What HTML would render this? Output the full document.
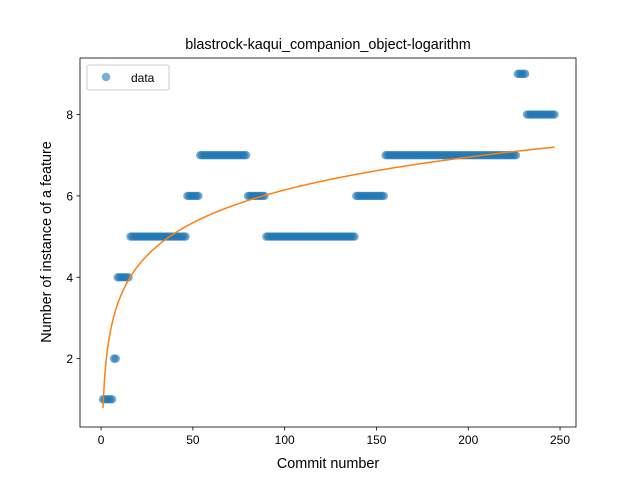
<!DOCTYPE html>
<html><head><meta charset="utf-8"><style>
body{margin:0;background:#fff;}
svg{font-family:"Liberation Sans","DejaVu Sans",sans-serif;}
</style></head><body>
<svg id="chart" width="640" height="480" viewBox="0 0 640 480">
<rect width="640" height="480" fill="#fff"/>
<g id="marks"></g>
<g id="axes"></g>
<text x="328" y="49" text-anchor="middle" font-size="14.4">blastrock-kaqui_companion_object-logarithm</text>
<text x="328" y="468" text-anchor="middle" font-size="14.4">Commit number</text>
<text transform="translate(51,242) rotate(-90)" text-anchor="middle" font-size="14.4">Number of instance of a feature</text>
<g>
<rect x="87" y="65" width="82" height="25" rx="2" fill="#fff" fill-opacity="0.8" stroke="#ccc"/>
<circle cx="106" cy="77" r="4.2" fill="#1f77b4" fill-opacity="0.6"/>
<text x="131" y="82" font-size="12">data</text>
</g>
</svg>
<script>
// segments: [start commit, end commit, value]
const segStarts=[1,7,9,16,47,54,80,90,139,155,227,232];
const segEnds=[6,8,15,46,53,79,89,138,154,226,231,247];
const segValues=[1,2,4,5,6,7,6,5,6,7,9,8];
const xTicks=[0,50,100,150,200,250];
const yTicks=[2,4,6,8];

const L=80,R=576,T=58,B=427;
const xmin=-11.5,xmax=258.7,ymin=0.32,ymax=9.39;
const X=v=>L+(v-xmin)/(xmax-xmin)*(R-L);
const Y=v=>B-(v-ymin)/(ymax-ymin)*(B-T);
const NS="http://www.w3.org/2000/svg";
const marks=document.getElementById('marks');
const axes=document.getElementById('axes');
function mk(tag,attrs,parent){const e=document.createElementNS(NS,tag);for(const k in attrs)e.setAttribute(k,attrs[k]);parent.appendChild(e);return e;}

const xs=[],ys=[];
for(let s=0;s<segStarts.length;s++){for(let c=segStarts[s];c<=segEnds[s];c++){xs.push(c);ys.push(segValues[s]);}}
for(let i=0;i<xs.length;i++){
  const p=mk('circle',{cx:X(xs[i]),cy:Y(ys[i]),r:4.2,fill:'#1f77b4','fill-opacity':0.6},marks);
  
  
}
// log fit y = a + b ln x
let n=xs.length,sx=0,sy=0,sxx=0,sxy=0;
for(let i=0;i<n;i++){const l=Math.log(xs[i]);sx+=l;sy+=ys[i];sxx+=l*l;sxy+=l*ys[i];}
const b=(n*sxy-sx*sy)/(n*sxx-sx*sx),a=(sy-b*sx)/n;
let d='';
const x0=xs[0],x1=xs[xs.length-1];
for(let i=0;i<=300;i++){const x=x0+(x1-x0)*i/300;d+=(i?'L':'M')+X(x).toFixed(2)+','+Y(a+b*Math.log(x)).toFixed(2);}
const fit=mk('path',{d:d,fill:'none',stroke:'#ff7f0e','stroke-width':1.5},marks);



const frame=mk('rect',{x:L,y:T,width:R-L,height:B-T,fill:'none',stroke:'#000','stroke-width':0.8},axes);


xTicks.forEach(t=>{
  mk('line',{x1:X(t),x2:X(t),y1:B,y2:B+3.5,stroke:'#000','stroke-width':0.8},axes);
  const tx=mk('text',{x:X(t),y:B+17,'text-anchor':'middle','font-size':12},axes);
  tx.textContent=t;
  
  
});
yTicks.forEach(t=>{
  mk('line',{x1:L-3.5,x2:L,y1:Y(t),y2:Y(t),stroke:'#000','stroke-width':0.8},axes);
  const tx=mk('text',{x:L-7,y:Y(t)+4.5,'text-anchor':'end','font-size':12},axes);
  tx.textContent=t;
  
  
});
</script>
</body></html>
